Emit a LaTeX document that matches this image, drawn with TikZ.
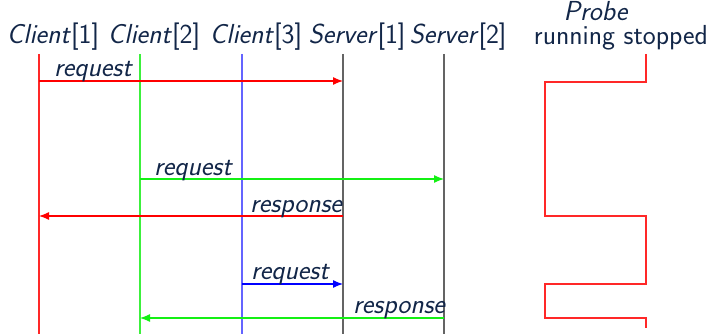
\documentclass[tikz,border=0pt]{standalone}
\usetikzlibrary{arrows.meta}
\renewcommand{\familydefault}{\sfdefault}
\definecolor{txt}{RGB}{18,38,72}
\definecolor{lred}{RGB}{255,40,40}
\definecolor{lgreen}{RGB}{60,240,60}
\definecolor{lblue}{RGB}{100,100,255}
\definecolor{lgray}{RGB}{100,100,100}
\definecolor{agreen}{RGB}{20,240,20}
\tikzset{
  every node/.style={text=txt, inner sep=0pt, outer sep=0pt, font=\fontsize{27.5}{32}\selectfont},
  lifeline/.style={line width=1.2pt},
  msg/.style={line width=1.2pt, -{Latex[length=10pt,width=8pt]}},
  probe/.style={line width=1.2pt, lred},
}
\begin{document}
\begin{tikzpicture}[x=1pt,y=-1pt]
\useasboundingbox (0,0) rectangle (714,334);

% participants
\node[anchor=base] (h1) at (39,44) {\textit{Client}\/\rlap{[1]}};
\node[anchor=base] (h2) at (140,44) {\textit{Client}\/\rlap{[2]}};
\node[anchor=base] (h3) at (242,44) {\textit{Client}\/\rlap{[3]}};
\node[anchor=base] (h4) at (343,44) {\textit{Server}\/\rlap{[1]}};
\node[anchor=base] (h5) at (444,44) {\textit{Server}\/\rlap{[2]}};
\node[anchor=base] (ph) at (596,21) {\textit{Probe}};
\node[anchor=base] (ps) at (621,45) {running stopped};

% lifelines
\coordinate (t1) at (39,54);   \coordinate (b1) at (39,334);
\coordinate (t2) at (140,54);  \coordinate (b2) at (140,334);
\coordinate (t3) at (242,54);  \coordinate (b3) at (242,334);
\coordinate (t4) at (343,54);  \coordinate (b4) at (343,334);
\coordinate (t5) at (444,54);  \coordinate (b5) at (444,334);
\draw[lifeline, lred]   (t1) -- (b1);
\draw[lifeline, lgreen] (t2) -- (b2);
\draw[lifeline, lblue]  (t3) -- (b3);
\draw[lifeline, lgray]  (t4) -- (b4);
\draw[lifeline, lgray]  (t5) -- (b5);

% messages
\coordinate (m1a) at (39,81);   \coordinate (m1b) at (343,81);
\coordinate (m2a) at (140,179); \coordinate (m2b) at (444,179);
\coordinate (m3a) at (343,216); \coordinate (m3b) at (39,216);
\coordinate (m4a) at (242,284); \coordinate (m4b) at (343,284);
\coordinate (m5a) at (444,318); \coordinate (m5b) at (140,318);
\draw[msg, red]    (m1a) -- (m1b);
\draw[msg, agreen] (m2a) -- (m2b);
\draw[msg, red]    (m3a) -- (m3b);
\draw[msg, blue]   (m4a) -- (m4b);
\draw[msg, agreen] (m5a) -- (m5b);
\node[anchor=base west] (l1) at (54,77)  {\textit{request}};
\node[anchor=base west] (l2) at (154,175) {\textit{request}};
\node[anchor=base east] (l3) at (343,212) {\textit{response}};
\node[anchor=base west] (l4) at (251,279) {\textit{request}};
\node[anchor=base east] (l5) at (446,313) {\textit{response}};

% probe state trace
\coordinate (p0) at (646,54);
\coordinate (p1) at (646,82);  \coordinate (p2) at (545,82);
\coordinate (p3) at (545,216); \coordinate (p4) at (646,216);
\coordinate (p5) at (646,284); \coordinate (p6) at (545,284);
\coordinate (p7) at (545,318); \coordinate (p8) at (646,318);
\coordinate (p9) at (646,328);
\draw[probe] (p0) -- (p1) -- (p2) -- (p3) -- (p4) -- (p5) -- (p6) -- (p7) -- (p8) -- (p9);
\end{tikzpicture}
\end{document}
